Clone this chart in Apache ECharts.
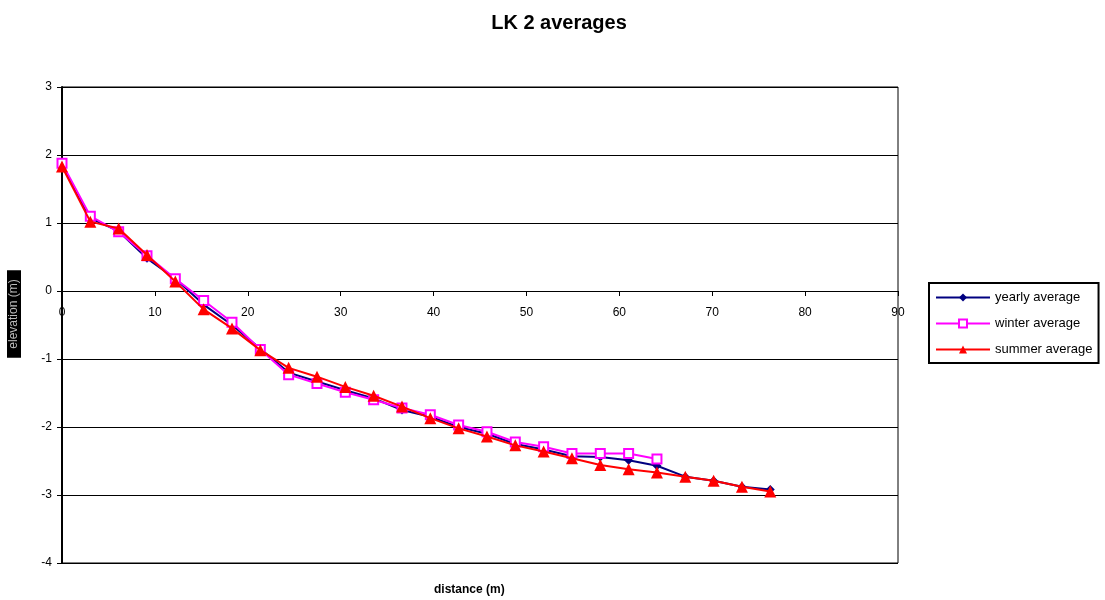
<!DOCTYPE html>
<html><head><meta charset="utf-8">
<script src="https://cdn.jsdelivr.net/npm/echarts@6/dist/echarts.min.js"></script>
<style>html,body{margin:0;padding:0;background:#fff}#c{width:1105px;height:600px}</style>
</head><body><div id="c"></div>
<script>
const distance = [0, 3.05, 6.1, 9.15, 12.2, 15.25, 18.3, 21.35, 24.4, 27.45, 30.5, 33.55, 36.6, 39.65, 42.7, 45.75, 48.8, 51.85, 54.9, 57.95, 61, 64.05, 67.1, 70.15, 73.2, 76.25];
const yearly = [1.85, 1.07, 0.88, 0.48, 0.18, -0.2, -0.5, -0.85, -1.2, -1.33, -1.46, -1.58, -1.75, -1.85, -2.0, -2.1, -2.25, -2.33, -2.43, -2.44, -2.49, -2.57, -2.73, -2.79, -2.88, -2.92];
const winter = [1.88, 1.10, 0.87, 0.52, 0.18, -0.14, -0.46, -0.86, -1.23, -1.36, -1.49, -1.60, -1.72, -1.82, -1.97, -2.07, -2.22, -2.29, -2.39, -2.39, -2.39, -2.47];
const summer = [1.83, 1.02, 0.92, 0.53, 0.14, -0.27, -0.55, -0.87, -1.13, -1.26, -1.41, -1.54, -1.70, -1.87, -2.02, -2.14, -2.27, -2.36, -2.46, -2.56, -2.62, -2.67, -2.73, -2.79, -2.88, -2.95];
const seriesNames = ['yearly average', 'winter average', 'summer average'];
const xTicks = {min: 0, max: 90, interval: 10};
const yTicks = {min: -4, max: 3, interval: 1};

function pairs(vals){ return vals.map((v,i)=>[distance[i], v]); }
const font = 'Liberation Sans, Arial, sans-serif';
const chart = echarts.init(document.getElementById('c'), null, {renderer:'canvas'});
chart.setOption({
  animation: false,
  backgroundColor: '#fff',
  title: {text: 'LK 2 averages', left: 554, top: 8, textAlign: 'center',
    textStyle: {fontFamily: font, fontSize: 20, fontWeight: 'bold', color: '#000'}},
  grid: {left: 62, right: 207, top: 87, bottom: 37, show: true, borderColor: '#000', borderWidth: 1,
    containLabel: false, outerBoundsMode: 'none'},
  legend: {
    orient: 'vertical', left: 929, top: 283, itemGap: 13, itemWidth: 54, itemHeight: 10,
    borderColor: '#000', borderWidth: 2, padding: [8, 6, 7, 6],
    textStyle: {fontFamily: font, fontSize: 13, color: '#000'},
    data: seriesNames
  },
  graphic: [
    {type: 'text', left: 434, top: 584, style: {text: 'distance (m)',
      font: 'bold 12px Liberation Sans, Arial, sans-serif', fill: '#000'}},
    {type: 'text', x: 14, y: 314, rotation: Math.PI / 2, style: {text: 'elevation (m)',
      font: '12px Liberation Sans, Arial, sans-serif', fill: '#bbb', backgroundColor: '#000',
      padding: [1, 9, 1, 9], align: 'center', verticalAlign: 'middle'}}
  ],
  xAxis: {
    type: 'value', min: xTicks.min, max: xTicks.max, interval: xTicks.interval,
    position: 'bottom', offset: -272,
    axisLine: {onZero: false, lineStyle: {color: '#000', width: 1}},
    axisTick: {show: true, inside: false, length: 5, lineStyle: {color: '#000'}},
    axisLabel: {fontFamily: font, fontSize: 12, color: '#000', margin: 16},
    splitLine: {show: false}
  },
  yAxis: {
    type: 'value', min: yTicks.min, max: yTicks.max, interval: yTicks.interval,
    axisLine: {show: true, lineStyle: {color: '#000', width: 2}},
    axisTick: {show: true, length: 5, lineStyle: {color: '#000'}},
    axisLabel: {fontFamily: font, fontSize: 12, color: '#000', margin: 10},
    splitLine: {show: true, lineStyle: {color: '#000', width: 1}}
  },
  series: [
    {name: seriesNames[0], type: 'line', data: pairs(yearly), symbol: 'diamond', symbolSize: 9,
     lineStyle: {color: '#000080', width: 2}, itemStyle: {color: '#000080'}, z: 2},
    {name: seriesNames[1], type: 'line', data: pairs(winter), symbol: 'rect', symbolSize: 9,
     lineStyle: {color: '#ff00ff', width: 2}, itemStyle: {color: '#fff', borderColor: '#ff00ff', borderWidth: 2}, z: 3},
    {name: seriesNames[2], type: 'line', data: pairs(summer), symbol: 'triangle', symbolSize: 12,
     lineStyle: {color: '#ff0000', width: 2}, itemStyle: {color: '#ff0000'}, z: 4}
  ]
});
</script></body></html>
